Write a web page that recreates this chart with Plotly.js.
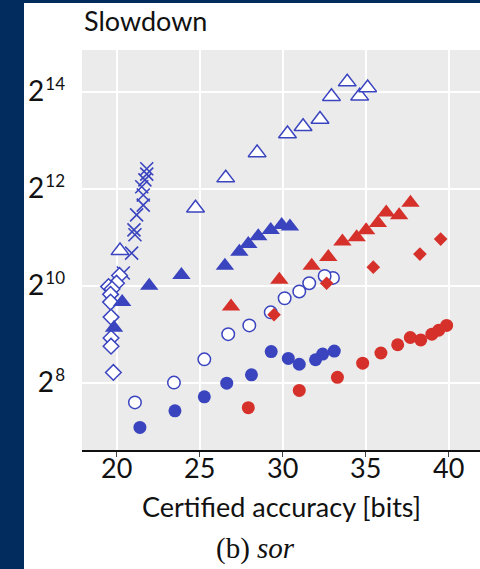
<!DOCTYPE html>
<html>
<head>
<meta charset="utf-8">
<script src="https://cdn.plot.ly/plotly-3.0.1.min.js"></script>
<style>
  html, body { margin: 0; padding: 0; background: #022c5e; width: 480px; height: 569px; overflow: hidden; }
  #chart { position: absolute; left: 24px; top: 3px; width: 456px; height: 566px; background: #ffffff; }
</style>
</head>
<body>
<div id="chart"></div>
<script>
// Certified accuracy [bits] (x) and slowdown (y) per series
var openTriX = [33.89, 32.94, 34.64, 35.12, 32.25, 31.23, 30.29, 28.46, 26.57, 24.75, 20.2];
var openTriY = [18820, 15287, 15393, 17318, 11036, 9947, 8970, 6841, 4771, 3104, 1687];

var blueTriX = [30.44, 29.94, 29.28, 28.53, 27.93, 27.39, 26.52, 23.90, 21.96, 20.33, 19.84];
var blueTriY = [2385, 2435, 2272, 2077, 1859, 1663, 1361, 1193, 1024, 809, 560];

var redTriX = [37.70, 37.02, 36.24, 35.74, 35.03, 34.46, 33.60, 32.75, 31.75, 29.80, 26.89];
var redTriY = [3350, 2798, 2917, 2504, 2257, 2048, 1924, 1541, 1361, 1113, 760];

var crossX = [21.81, 21.81, 21.70, 21.51, 21.60, 21.60, 21.20, 21.04, 21.10, 20.90, 20.40];
var crossY = [5442, 5043, 4640, 4211, 3743, 3236, 2817, 2272, 2120, 1629, 1226];

var openDiaX = [20.17, 19.99, 19.51, 19.72, 19.63, 19.63, 19.66, 19.66, 19.66, 19.80];
var openDiaY = [1184, 1060, 1010, 976, 904, 809, 653, 484, 431, 296];

var openCircX = [33.03, 32.53, 31.60, 31.00, 30.12, 29.28, 27.99, 26.72, 25.28, 23.45, 21.10];
var openCircY = [1144, 1176, 1060, 942, 855, 699, 580, 512, 357, 256, 193];

var blueCircX = [33.11, 32.41, 31.98, 31.00, 30.34, 29.31, 28.12, 26.63, 25.28, 23.51, 21.40];
var blueCircY = [402, 385, 355, 333, 362, 399, 286, 254, 209, 171, 135];

var redCircX = [39.88, 39.40, 38.99, 38.32, 37.69, 36.93, 35.92, 34.82, 33.30, 31.00, 27.93];
var redCircY = [580, 541, 512, 471, 488, 440, 391, 338, 276, 229, 179];

var redDiaX = [39.52, 38.27, 35.46, 32.65, 29.48];
var redDiaY = [1992, 1607, 1333, 1060, 676];

var xTickVals = [20, 25, 30, 35, 40];
var yTickVals = [256, 1024, 4096, 16384];
var yTickExp = ['8', '10', '12', '14'];
var yTickText = yTickExp.map(function (e) {
  return '2<sup><span style="font-size:17px">&#8202;' + e + '</span></sup>';
});

var BLUE = '#3a44bf';
var RED = '#d6302a';

function tr(x, y, symbol, size, fill, lineColor, lineWidth) {
  return {
    x: x, y: y, type: 'scatter', mode: 'markers', hoverinfo: 'skip',
    marker: { symbol: symbol, size: size, color: fill, line: { color: lineColor, width: lineWidth } }
  };
}

var data = [
  tr(crossX, crossY, 'x-thin', 13, BLUE, BLUE, 1.6),
  tr(openDiaX, openDiaY, 'diamond', 12, '#ffffff', BLUE, 1.5),
  tr(blueTriX, blueTriY, 'triangle-up', 16, BLUE, BLUE, 0),
  tr(openTriX, openTriY, 'triangle-up', 15.5, '#ffffff', BLUE, 1.5),
  tr(openCircX, openCircY, 'circle', 12.5, '#ffffff', BLUE, 1.5),
  tr(blueCircX, blueCircY, 'circle', 13, BLUE, BLUE, 0),
  tr(redTriX, redTriY, 'triangle-up', 16, RED, RED, 0),
  tr(redCircX, redCircY, 'circle', 13, RED, RED, 0),
  tr(redDiaX, redDiaY, 'diamond', 10.5, RED, RED, 0)
];

var FONT = 'Lato, "Open Sans", sans-serif';

var layout = {
  width: 456, height: 566,
  margin: { l: 58, r: 0, t: 47, b: 119, pad: 0 },
  paper_bgcolor: '#ffffff',
  plot_bgcolor: '#ebebeb',
  showlegend: false,
  font: { family: FONT, color: '#111111', size: 27 },
  xaxis: {
    range: [17.91, 41.89],
    tickvals: xTickVals,
    ticktext: xTickVals.map(String),
    showgrid: true, gridcolor: '#ffffff', gridwidth: 2,
    zeroline: false,
    showline: true, linecolor: '#111111', linewidth: 2,
    ticks: 'outside', ticklen: 5, tickwidth: 1.5, tickcolor: '#444444',
    tickfont: { family: FONT, size: 27, color: '#111111' },
    ticklabelstandoff: -11
  },
  yaxis: {
    type: 'log',
    range: [1.990, 4.473],
    tickvals: yTickVals,
    ticktext: yTickText,
    showgrid: true, gridcolor: '#ffffff', gridwidth: 2,
    zeroline: false, showline: false,
    ticks: '',
    tickfont: { family: FONT, size: 28, color: '#111111' },
    ticklabelstandoff: 16
  },
  annotations: [
    { text: 'Slowdown', xref: 'paper', yref: 'paper', x: 0, y: 1.075, xanchor: 'left', yanchor: 'middle',
      showarrow: false, font: { family: FONT, size: 27, color: '#111111' } },
    { text: 'Certified accuracy [bits]', xref: 'paper', yref: 'paper', x: 0.5, y: -0.14, xanchor: 'center', yanchor: 'middle',
      showarrow: false, font: { family: FONT, size: 27, color: '#111111' } },
    { text: '(b) <i>sor</i>', xref: 'paper', yref: 'paper', x: 0.437, y: -0.245, xanchor: 'center', yanchor: 'middle',
      showarrow: false, font: { family: '"Liberation Serif", "DejaVu Serif", serif', size: 29, color: '#111111' } }
  ]
};

Plotly.newPlot('chart', data, layout, { staticPlot: true, displayModeBar: false });
</script>
</body>
</html>
